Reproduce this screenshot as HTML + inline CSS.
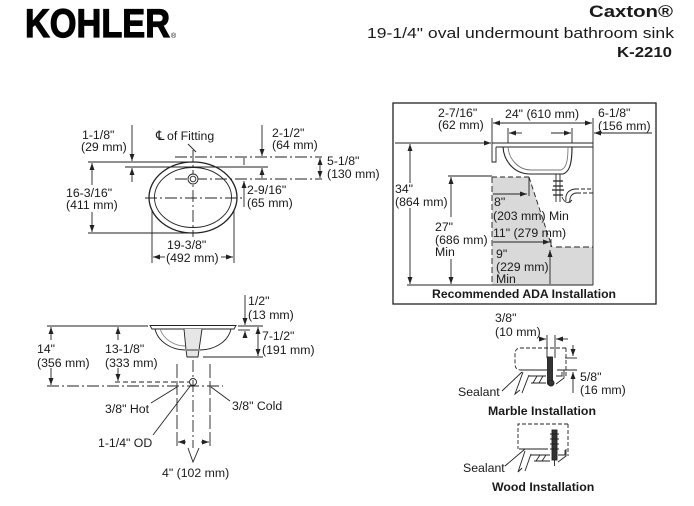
<!DOCTYPE html>
<html>
<head>
<meta charset="utf-8">
<style>
  html,body{margin:0;padding:0;background:#fff;}
  svg{display:block;}
  text{font-family:"Liberation Sans", "DejaVu Sans", Arial, sans-serif; fill:#1a1a1a;}
</style>
</head>
<body>
<svg width="694" height="506" viewBox="0 0 694 506" xmlns="http://www.w3.org/2000/svg">
<defs>
  <marker id="a" markerWidth="8" markerHeight="6" refX="7" refY="2.5" orient="auto-start-reverse" markerUnits="userSpaceOnUse">
    <path d="M0,0 L7,2.5 L0,5 Z" fill="#222"/>
  </marker>
</defs>
<rect width="694" height="506" fill="#fff"/>

<!-- HEADER -->
<text x="25" y="37" font-size="40" font-weight="bold" textLength="145" lengthAdjust="spacingAndGlyphs" style="fill:#000;stroke:#000;stroke-width:1.2">KOHLER</text>
<text x="171" y="38" font-size="7" style="fill:#000">®</text>
<text x="589" y="17" font-size="17" font-weight="bold" textLength="84" lengthAdjust="spacingAndGlyphs">Caxton®</text>
<text x="367" y="38" font-size="15" textLength="307" lengthAdjust="spacingAndGlyphs">19-1/4" oval undermount bathroom sink</text>
<text x="617" y="57" font-size="15" font-weight="bold" textLength="55" lengthAdjust="spacingAndGlyphs">K-2210</text>

<!-- TOP-LEFT PLAN VIEW -->
<g stroke="#222" stroke-width="0.9" fill="none">
  <line x1="132" y1="125" x2="132" y2="161" marker-end="url(#a)"/>
  <line x1="132" y1="182" x2="132" y2="168" marker-end="url(#a)"/>
  <line x1="88" y1="162" x2="193" y2="162"/>
  <line x1="125" y1="167" x2="268" y2="167"/>
  <line x1="175" y1="157" x2="322" y2="157" stroke-dasharray="12,3,2,3"/>
  <line x1="175" y1="179" x2="322" y2="179" stroke-dasharray="12,3,2,3"/>
  <line x1="145" y1="198" x2="243" y2="198" stroke-dasharray="12,3,2,3"/>
  <line x1="193" y1="150" x2="193" y2="237" stroke-dasharray="12,3,2,3"/>
  <ellipse cx="193" cy="197.5" rx="44" ry="35.5" stroke-width="1.3"/>
  <ellipse cx="193" cy="197.5" rx="38.5" ry="30"/>
  <circle cx="193" cy="179" r="5" fill="#fff"/>
  <circle cx="193" cy="179" r="2.8"/>
  <line x1="262" y1="125" x2="262" y2="156" marker-end="url(#a)"/>
  <line x1="262" y1="178" x2="262" y2="168" marker-end="url(#a)"/>
  <line x1="244" y1="158" x2="244" y2="165"/>
  <line x1="244" y1="207" x2="244" y2="181" marker-end="url(#a)"/>
  <line x1="320" y1="158" x2="320" y2="178" marker-start="url(#a)" marker-end="url(#a)"/>
  <line x1="92" y1="185" x2="92" y2="163" marker-end="url(#a)"/>
  <line x1="92" y1="212" x2="92" y2="232" marker-end="url(#a)"/>
  <line x1="88" y1="233" x2="193" y2="233"/>
  <line x1="152" y1="210" x2="152" y2="263"/>
  <line x1="234" y1="210" x2="234" y2="263"/>
  <line x1="165" y1="257" x2="153" y2="257" marker-end="url(#a)"/>
  <line x1="221" y1="257" x2="233" y2="257" marker-end="url(#a)"/>
  <line x1="188" y1="144" x2="196" y2="152"/>
</g>
<g font-size="12.3">
  <text x="82" y="139">1-1/8"</text>
  <text x="81" y="151">(29 mm)</text>
  <text x="156" y="140" font-size="13">℄</text>
  <text x="167" y="140">of Fitting</text>
  <text x="272" y="137">2-1/2"</text>
  <text x="272" y="149">(64 mm)</text>
  <text x="327" y="165">5-1/8"</text>
  <text x="327" y="178">(130 mm)</text>
  <text x="247" y="194">2-9/16"</text>
  <text x="247" y="207">(65 mm)</text>
  <text x="66" y="197">16-3/16"</text>
  <text x="66" y="209">(411 mm)</text>
  <text x="167" y="249">19-3/8"</text>
  <text x="166" y="262">(492 mm)</text>
</g>

<!-- LOWER-LEFT SIDE VIEW -->
<g stroke="#222" stroke-width="0.9" fill="none">
  <line x1="47" y1="326" x2="148" y2="326"/>
  <path d="M150,325.5 L236,325.5 L234,329 L152,329 Z" fill="#fff"/>
  <path d="M155,329 C158,342 172,350 185,350"/>
  <path d="M231,329 C228,342 214,350 200,350"/>
  <path d="M160,329 C164,340 175,346 185,346" stroke="#888"/>
  <path d="M184,329 L186,350 L187,357 L198,357 L199,350 L202,329" fill="#e6e6e6"/>
  <line x1="187" y1="350" x2="198" y2="350"/>
  <line x1="203" y1="357" x2="263" y2="357"/>
  <line x1="258" y1="327" x2="258" y2="356" marker-start="url(#a)" marker-end="url(#a)"/>
  <line x1="238" y1="326" x2="263" y2="326"/>
  <line x1="238" y1="330" x2="250" y2="330"/>
  <line x1="245" y1="295" x2="245" y2="325" marker-end="url(#a)"/>
  <line x1="245" y1="338" x2="245" y2="331" marker-end="url(#a)"/>
  <line x1="51" y1="340" x2="51" y2="327" marker-end="url(#a)"/>
  <line x1="51" y1="368" x2="51" y2="385" marker-end="url(#a)"/>
  <line x1="118" y1="340" x2="118" y2="327" marker-end="url(#a)"/>
  <line x1="118" y1="368" x2="118" y2="381" marker-end="url(#a)"/>
  <line x1="47" y1="386" x2="223" y2="386" stroke-dasharray="12,3,2,3"/>
  <line x1="115" y1="382" x2="189" y2="382" stroke-dasharray="5,3"/>
  <circle cx="193" cy="382" r="3.5" fill="#fff"/>
  <line x1="177" y1="364" x2="177" y2="448" stroke-dasharray="14,3"/>
  <line x1="193" y1="360" x2="193" y2="448" stroke-dasharray="12,3,2,3"/>
  <line x1="210" y1="364" x2="210" y2="448" stroke-dasharray="14,3"/>
  <line x1="186" y1="442" x2="178" y2="442" marker-end="url(#a)"/>
  <line x1="201" y1="442" x2="209" y2="442" marker-end="url(#a)"/>
  <polyline points="188,448 193,462 199,448"/>
  <line x1="151" y1="403" x2="177" y2="387"/>
  <line x1="230" y1="401" x2="211" y2="387"/>
  <line x1="153" y1="435" x2="191" y2="385"/>
</g>
<g font-size="12.3">
  <text x="248" y="305">1/2"</text>
  <text x="248" y="319">(13 mm)</text>
  <text x="262" y="340">7-1/2"</text>
  <text x="262" y="354">(191 mm)</text>
  <text x="37" y="353">14"</text>
  <text x="37" y="367">(356 mm)</text>
  <text x="105" y="353">13-1/8"</text>
  <text x="105" y="367">(333 mm)</text>
  <text x="105" y="413">3/8" Hot</text>
  <text x="232" y="410">3/8" Cold</text>
  <text x="98" y="447">1-1/4" OD</text>
  <text x="162" y="477">4" (102 mm)</text>
</g>

<!-- ADA BOX -->
<rect x="393" y="103" width="263" height="201" fill="none" stroke="#222" stroke-width="1.3"/>
<path d="M492,177 L529,177 L551,244 L551,247 L593,247 L593,285 L492,285 Z" fill="#d9d9d9"/>
<g stroke="#222" stroke-width="0.9" fill="none">
  <line x1="493" y1="123" x2="592" y2="123" marker-start="url(#a)" marker-end="url(#a)"/>
  <line x1="492" y1="118" x2="492" y2="143"/>
  <line x1="593" y1="118" x2="593" y2="285"/>
  <line x1="652" y1="133" x2="594" y2="133" marker-end="url(#a)"/>
  <line x1="395" y1="143" x2="491" y2="143" marker-end="url(#a)"/>
  <path d="M492,143 L593,143 M496,147 L593,147 M492,143 L492,162 L496,162 L496,147"/>
  <line x1="508" y1="128" x2="508" y2="143"/>
  <line x1="572" y1="128" x2="572" y2="143"/>
  <line x1="522" y1="133" x2="509" y2="133" marker-end="url(#a)"/>
  <line x1="551" y1="133" x2="571" y2="133" marker-end="url(#a)"/>
  <path d="M503,147 C504,162 515,174 530,174 L563,174 C569,172 572,165 572,147" stroke-width="1.1"/>
  <path d="M508,147 C509,160 519,170 531,170 L561,170 C566,168 568,162 568,147" stroke="#777"/>
  <line x1="556" y1="174" x2="556" y2="202"/>
  <line x1="560" y1="174" x2="560" y2="202"/>
  <path d="M553,181 L563,181 M553,186 L563,186 M552,190 L564,190 M553,195 L563,195" stroke-width="1.3"/>
  <path d="M566,201 C565,194 568,190 575,189" />
  <path d="M570,203 C569,197 572,193 577,193" />
  <path d="M562,197 Q566,206 572,200" />
  <line x1="575" y1="189" x2="593" y2="189" stroke-dasharray="4,2"/>
  <line x1="577" y1="193" x2="593" y2="193" stroke-dasharray="4,2"/>
  <line x1="407" y1="285" x2="593" y2="285"/>
  <line x1="410" y1="183" x2="410" y2="144" marker-end="url(#a)"/>
  <line x1="410" y1="208" x2="410" y2="284" marker-end="url(#a)"/>
  <line x1="448" y1="176" x2="492" y2="176"/>
  <line x1="451" y1="217" x2="451" y2="177" marker-end="url(#a)"/>
  <line x1="451" y1="259" x2="451" y2="284" marker-end="url(#a)"/>
  <line x1="492" y1="177" x2="529" y2="177" stroke-dasharray="5,3"/>
  <line x1="492" y1="177" x2="492" y2="285" stroke-dasharray="6,3"/>
  <line x1="529" y1="177" x2="552" y2="247" stroke-dasharray="5,3"/>
  <line x1="556" y1="247" x2="593" y2="247" stroke-dasharray="6,3"/>
  <line x1="493" y1="194" x2="527" y2="194" marker-end="url(#a)"/>
  <line x1="529" y1="177" x2="529" y2="196"/>
  <line x1="493" y1="242" x2="550" y2="242" marker-end="url(#a)"/>
  <line x1="551" y1="239" x2="551" y2="247"/>
  <line x1="550" y1="284" x2="550" y2="250" marker-end="url(#a)"/>
</g>
<g font-size="12.3">
  <text x="438" y="117">2-7/16"</text>
  <text x="438" y="129">(62 mm)</text>
  <text x="505" y="118">24" (610 mm)</text>
  <text x="598" y="117">6-1/8"</text>
  <text x="598" y="130">(156 mm)</text>
  <text x="395" y="193">34"</text>
  <text x="395" y="206">(864 mm)</text>
  <text x="435" y="231">27"</text>
  <text x="435" y="244">(686 mm)</text>
  <text x="435" y="256">Min</text>
  <text x="494" y="206">8"</text>
  <text x="493" y="220">(203 mm) Min</text>
  <text x="493" y="237">11" (279 mm)</text>
  <text x="496" y="258">9"</text>
  <text x="496" y="271">(229 mm)</text>
  <text x="496" y="283">Min</text>
  <text x="524" y="298" text-anchor="middle" font-weight="bold" font-size="12.2">Recommended ADA Installation</text>
</g>

<!-- MARBLE INSTALLATION -->
<g stroke="#222" stroke-width="0.9" fill="none">
  <line x1="541" y1="339" x2="546" y2="339" marker-end="url(#a)"/>
  <line x1="568" y1="339" x2="556" y2="339" marker-end="url(#a)"/>
  <line x1="547" y1="335" x2="547" y2="358"/>
  <line x1="555" y1="335" x2="555" y2="358"/>
  <path d="M566,348 L521,348 Q515,348 515,354 L515,364 Q515,370 521,370" stroke-dasharray="4,2"/>
  <line x1="566" y1="348" x2="566" y2="378" stroke-dasharray="4,2"/>
  <line x1="521" y1="370" x2="547" y2="370"/>
  <path d="M523,372 L515,394 L520,390"/>
  <path d="M529,375 L522,393"/>
  <path d="M529,376 L546,376 M531,383 L546,383 M556,376 L562,376 L562,372 M556,384 L564,378 L564,370" />
  <path d="M533,383 L537,376 M539,383 L543,376" />
  <rect x="547.5" y="357" width="5" height="27" fill="#333"/>
  <circle cx="551" cy="383" r="3" fill="#333"/>
  <line x1="573" y1="345" x2="573" y2="356" marker-end="url(#a)"/>
  <line x1="573" y1="393" x2="573" y2="372" marker-end="url(#a)"/>
  <line x1="565" y1="358" x2="577" y2="358"/>
  <line x1="557" y1="370" x2="577" y2="370"/>
  <line x1="502" y1="391" x2="522" y2="372"/>
</g>
<g font-size="12.3">
  <text x="495" y="322">3/8"</text>
  <text x="495" y="336">(10 mm)</text>
  <text x="580" y="381">5/8"</text>
  <text x="580" y="394">(16 mm)</text>
  <text x="458" y="396">Sealant</text>
  <text x="488" y="415" font-weight="bold" font-size="12.3">Marble Installation</text>
</g>

<!-- WOOD INSTALLATION -->
<g stroke="#222" stroke-width="0.9" fill="none">
  <path d="M568,424 L518,424 L518,449" stroke-dasharray="4,2"/>
  <line x1="568" y1="424" x2="568" y2="456" stroke-dasharray="4,2"/>
  <line x1="519" y1="449" x2="548" y2="449"/>
  <path d="M525,451 L518,472 L522,468"/>
  <path d="M531,454 L525,471"/>
  <path d="M531,455 L550,455 M534,461 L550,461 M558,455 L565,455 L565,450 M558,462 L566,456 L566,449"/>
  <path d="M536,461 L540,455 M542,461 L546,455"/>
  <rect x="552" y="430" width="5" height="30" fill="#333"/>
  <path d="M550,434 L559,434 M550,439 L559,439 M550,444 L559,444 M550,449 L559,449"/>
  <line x1="554.5" y1="460" x2="554.5" y2="466"/>
  <line x1="505" y1="466" x2="525" y2="449"/>
</g>
<g font-size="12.3">
  <text x="463" y="472">Sealant</text>
  <text x="492" y="491" font-weight="bold" font-size="12.3">Wood Installation</text>
</g>
</svg>
</body>
</html>
